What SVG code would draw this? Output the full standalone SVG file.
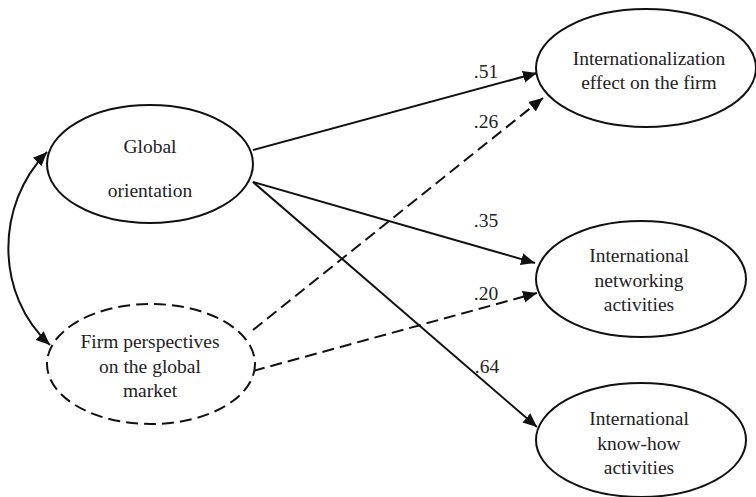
<svg xmlns="http://www.w3.org/2000/svg" width="756" height="497" viewBox="0 0 756 497">
<style>
.n{fill:#fff;stroke:#111;stroke-width:2}
.d{stroke-dasharray:12 6}
.t{font-size:19.5px;fill:#222;text-anchor:middle}
.c{fill:none;stroke:#111;stroke-width:2}
</style>
<defs>
<marker id="ah" markerUnits="userSpaceOnUse" markerWidth="16" markerHeight="14" refX="14" refY="6" orient="auto-start-reverse">
<path d="M0,0 L14,6 L0,12 Z" fill="#111"/>
</marker>
</defs>
<rect width="756" height="497" fill="#fff"/>
<g id="connectors">
<path class="c" d="M253,150 L537,73" marker-end="url(#ah)"/>
<path class="c d" d="M253,330 L543,98" marker-end="url(#ah)"/>
<path class="c" d="M253,182 L535,263" marker-end="url(#ah)"/>
<path class="c d" d="M253,371 L537,293" marker-end="url(#ah)"/>
<path class="c" d="M253,182 L537,427" marker-end="url(#ah)"/>
<path class="c" d="M47,152 C-5,205 -5,295 50,345" marker-start="url(#ah)" marker-end="url(#ah)"/>
<text class="t" font-family="Liberation Serif" x="486" y="78">.51</text>
<text class="t" font-family="Liberation Serif" x="486" y="128">.26</text>
<text class="t" font-family="Liberation Serif" x="486" y="227">.35</text>
<text class="t" font-family="Liberation Serif" x="486" y="300">.20</text>
<text class="t" font-family="Liberation Serif" x="487" y="373">.64</text>
</g>
<g id="global">
<ellipse class="n" cx="150" cy="164" rx="103" ry="59"/>
<text class="t" font-family="Liberation Serif" x="150" y="153">Global</text>
<text class="t" font-family="Liberation Serif" x="150" y="197">orientation</text>
</g>
<g id="firm">
<ellipse class="n d" cx="151" cy="364" rx="104" ry="60"/>
<text class="t" font-family="Liberation Serif" x="150" y="348">Firm perspectives</text>
<text class="t" font-family="Liberation Serif" x="150" y="373">on the global</text>
<text class="t" font-family="Liberation Serif" x="150" y="397">market</text>
</g>
<g id="effect">
<ellipse class="n" cx="646" cy="68" rx="110" ry="59"/>
<text class="t" font-family="Liberation Serif" x="649" y="65">Internationalization</text>
<text class="t" font-family="Liberation Serif" x="649" y="89">effect on the firm</text>
</g>
<g id="networking">
<ellipse class="n" cx="641" cy="279" rx="105" ry="58"/>
<text class="t" font-family="Liberation Serif" x="639" y="262">International</text>
<text class="t" font-family="Liberation Serif" x="639" y="287">networking</text>
<text class="t" font-family="Liberation Serif" x="639" y="311">activities</text>
</g>
<g id="knowhow">
<ellipse class="n" cx="641" cy="440" rx="105" ry="57"/>
<text class="t" font-family="Liberation Serif" x="639" y="425">International</text>
<text class="t" font-family="Liberation Serif" x="639" y="450">know-how</text>
<text class="t" font-family="Liberation Serif" x="639" y="474">activities</text>
</g>
</svg>
